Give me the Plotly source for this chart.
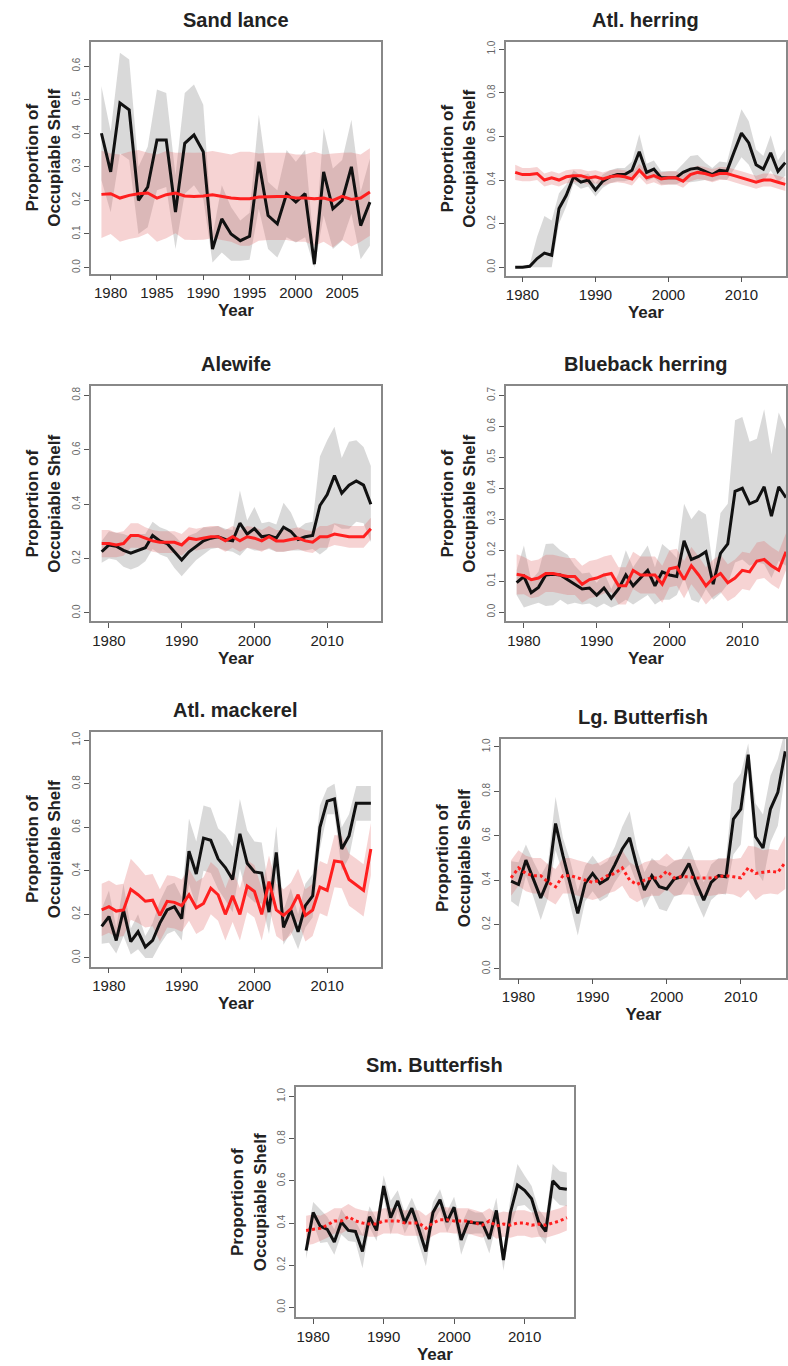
import plotly.graph_objects as go

W, H = 788, 1366
yrs_sl = list(range(1979, 2009))
yrs = list(range(1979, 2017))

# ---- data ----
sl_obs = [0.40,0.285,0.49,0.47,0.20,0.24,0.38,0.38,0.165,0.37,0.395,0.345,0.055,0.145,0.10,0.08,0.093,0.315,0.155,0.13,0.22,0.195,0.22,0.01,0.285,0.175,0.20,0.30,0.125,0.195]
sl_obs_hw = [0.14,0.12,0.15,0.15,0.10,0.12,0.15,0.14,0.11,0.15,0.15,0.14,0.04,0.10,0.08,0.06,0.07,0.14,0.10,0.10,0.13,0.12,0.13,0.04,0.13,0.12,0.12,0.14,0.10,0.13]
sl_mod = [0.218,0.22,0.207,0.215,0.22,0.222,0.207,0.217,0.222,0.213,0.212,0.213,0.217,0.212,0.207,0.205,0.205,0.21,0.212,0.212,0.212,0.207,0.207,0.205,0.207,0.2,0.212,0.203,0.207,0.225]
sl_mod_hw = [0.13,0.12,0.13,0.13,0.13,0.12,0.13,0.13,0.12,0.13,0.13,0.13,0.13,0.13,0.13,0.14,0.14,0.13,0.13,0.13,0.13,0.13,0.13,0.14,0.13,0.14,0.13,0.14,0.13,0.13]

ah_obs = [0.0,0.0,0.005,0.04,0.065,0.055,0.27,0.33,0.415,0.39,0.40,0.355,0.395,0.415,0.425,0.425,0.445,0.53,0.435,0.45,0.41,0.41,0.41,0.435,0.45,0.455,0.44,0.425,0.445,0.44,0.53,0.615,0.57,0.47,0.45,0.525,0.44,0.48]
ah_obs_hw = [0.005,0.005,0.01,0.10,0.17,0.16,0.07,0.05,0.03,0.03,0.03,0.03,0.03,0.03,0.03,0.03,0.04,0.08,0.04,0.04,0.03,0.03,0.03,0.04,0.06,0.06,0.04,0.03,0.04,0.04,0.08,0.11,0.10,0.07,0.06,0.08,0.05,0.06]
ah_mod = [0.435,0.425,0.425,0.43,0.40,0.41,0.40,0.415,0.42,0.42,0.41,0.415,0.405,0.415,0.42,0.415,0.405,0.445,0.41,0.42,0.405,0.41,0.41,0.395,0.425,0.435,0.43,0.42,0.43,0.43,0.42,0.41,0.40,0.39,0.40,0.40,0.39,0.38]
ah_mod_hw = [0.035,0.03,0.03,0.03,0.03,0.03,0.03,0.03,0.03,0.03,0.03,0.03,0.03,0.03,0.03,0.03,0.03,0.03,0.03,0.03,0.03,0.03,0.03,0.03,0.03,0.03,0.03,0.03,0.03,0.03,0.03,0.03,0.03,0.03,0.03,0.03,0.03,0.03]

al_obs = [0.225,0.25,0.245,0.23,0.22,0.23,0.24,0.285,0.265,0.255,0.225,0.195,0.225,0.245,0.265,0.275,0.28,0.27,0.265,0.33,0.29,0.31,0.28,0.285,0.275,0.315,0.30,0.27,0.28,0.285,0.395,0.435,0.505,0.44,0.47,0.485,0.47,0.40]
al_obs_hw = [0.04,0.05,0.05,0.06,0.06,0.06,0.05,0.05,0.05,0.05,0.06,0.06,0.06,0.05,0.05,0.04,0.04,0.04,0.04,0.12,0.05,0.08,0.05,0.05,0.05,0.09,0.07,0.04,0.05,0.05,0.18,0.2,0.18,0.13,0.16,0.15,0.14,0.14]
al_mod = [0.255,0.255,0.25,0.255,0.285,0.285,0.275,0.265,0.26,0.26,0.26,0.25,0.275,0.27,0.275,0.28,0.28,0.265,0.28,0.265,0.28,0.275,0.265,0.28,0.265,0.265,0.27,0.275,0.265,0.26,0.28,0.28,0.29,0.285,0.28,0.28,0.28,0.31]
al_mod_hw = [0.05,0.05,0.045,0.045,0.045,0.045,0.04,0.04,0.04,0.04,0.04,0.04,0.04,0.04,0.04,0.04,0.04,0.04,0.04,0.04,0.04,0.04,0.04,0.04,0.04,0.04,0.04,0.04,0.04,0.04,0.04,0.04,0.04,0.04,0.04,0.04,0.04,0.04]

bb_obs = [0.095,0.115,0.063,0.08,0.12,0.122,0.12,0.105,0.09,0.075,0.078,0.055,0.078,0.045,0.075,0.12,0.085,0.11,0.135,0.085,0.13,0.12,0.115,0.23,0.17,0.18,0.195,0.09,0.19,0.22,0.39,0.40,0.35,0.36,0.405,0.31,0.405,0.37]
bb_obs_hw = [0.04,0.1,0.04,0.05,0.1,0.1,0.08,0.08,0.06,0.05,0.05,0.04,0.05,0.03,0.05,0.08,0.06,0.07,0.08,0.06,0.09,0.08,0.06,0.12,0.13,0.15,0.12,0.05,0.13,0.13,0.23,0.23,0.2,0.2,0.25,0.2,0.24,0.22]
bb_mod = [0.122,0.118,0.105,0.11,0.125,0.125,0.12,0.115,0.115,0.09,0.105,0.11,0.12,0.125,0.085,0.085,0.135,0.12,0.12,0.12,0.09,0.14,0.145,0.105,0.15,0.12,0.085,0.11,0.125,0.095,0.11,0.135,0.13,0.165,0.17,0.15,0.135,0.195]
bb_mod_hw = [0.065,0.06,0.06,0.06,0.06,0.06,0.06,0.06,0.06,0.06,0.06,0.06,0.06,0.06,0.06,0.06,0.06,0.06,0.06,0.06,0.06,0.06,0.06,0.06,0.06,0.06,0.06,0.06,0.06,0.06,0.06,0.06,0.06,0.06,0.06,0.06,0.06,0.06]

am_obs = [0.145,0.19,0.08,0.22,0.075,0.12,0.05,0.08,0.16,0.22,0.235,0.18,0.49,0.385,0.55,0.54,0.455,0.415,0.36,0.57,0.435,0.395,0.39,0.21,0.485,0.14,0.22,0.12,0.24,0.285,0.60,0.72,0.73,0.50,0.56,0.71,0.71,0.71]
am_obs_hw = [0.08,0.12,0.06,0.12,0.06,0.08,0.05,0.08,0.1,0.11,0.11,0.1,0.15,0.15,0.15,0.15,0.14,0.15,0.15,0.16,0.15,0.14,0.14,0.1,0.12,0.08,0.1,0.08,0.1,0.1,0.1,0.06,0.07,0.1,0.1,0.08,0.08,0.08]
am_mod = [0.22,0.235,0.215,0.22,0.315,0.29,0.26,0.265,0.195,0.26,0.255,0.24,0.29,0.23,0.25,0.32,0.29,0.2,0.285,0.2,0.33,0.305,0.2,0.35,0.22,0.195,0.225,0.29,0.195,0.22,0.325,0.31,0.445,0.44,0.36,0.335,0.31,0.5]
am_mod_hw = [0.12,0.12,0.12,0.12,0.14,0.13,0.12,0.12,0.12,0.12,0.12,0.12,0.12,0.12,0.12,0.12,0.12,0.12,0.12,0.12,0.12,0.12,0.12,0.12,0.12,0.12,0.12,0.12,0.12,0.12,0.12,0.12,0.12,0.12,0.12,0.12,0.12,0.12]

lb_obs = [0.395,0.38,0.49,0.405,0.32,0.40,0.655,0.51,0.385,0.25,0.385,0.43,0.385,0.405,0.47,0.54,0.59,0.46,0.355,0.42,0.37,0.36,0.405,0.415,0.475,0.385,0.31,0.39,0.42,0.415,0.675,0.72,0.965,0.595,0.545,0.72,0.795,0.98]
lb_obs_hw = [0.09,0.1,0.07,0.08,0.1,0.08,0.12,0.08,0.1,0.1,0.08,0.08,0.08,0.08,0.08,0.1,0.12,0.08,0.08,0.08,0.1,0.1,0.08,0.08,0.08,0.08,0.08,0.08,0.08,0.08,0.16,0.16,0.05,0.15,0.15,0.15,0.15,0.1]
lb_mod = [0.41,0.455,0.43,0.42,0.42,0.39,0.37,0.42,0.42,0.41,0.40,0.39,0.40,0.42,0.43,0.455,0.40,0.38,0.40,0.41,0.41,0.44,0.41,0.415,0.415,0.41,0.41,0.41,0.415,0.42,0.415,0.41,0.455,0.43,0.435,0.44,0.435,0.48]
lb_mod_hw = [0.08,0.08,0.08,0.08,0.08,0.08,0.08,0.08,0.08,0.08,0.08,0.08,0.08,0.08,0.08,0.08,0.08,0.08,0.08,0.08,0.08,0.08,0.08,0.08,0.08,0.08,0.08,0.08,0.08,0.08,0.08,0.09,0.1,0.12,0.1,0.1,0.1,0.12]

sb_obs = [0.27,0.45,0.385,0.37,0.31,0.405,0.365,0.36,0.265,0.43,0.365,0.575,0.425,0.505,0.40,0.47,0.37,0.265,0.45,0.51,0.405,0.475,0.32,0.405,0.40,0.40,0.325,0.46,0.225,0.45,0.58,0.555,0.515,0.405,0.36,0.60,0.565,0.56]
sb_obs_hw = [0.04,0.05,0.08,0.06,0.06,0.06,0.05,0.05,0.08,0.05,0.05,0.05,0.08,0.05,0.05,0.05,0.07,0.07,0.05,0.05,0.05,0.05,0.07,0.06,0.05,0.05,0.07,0.06,0.05,0.07,0.1,0.07,0.06,0.06,0.06,0.08,0.08,0.08]
sb_mod = [0.365,0.37,0.375,0.39,0.41,0.41,0.43,0.41,0.40,0.395,0.395,0.41,0.41,0.41,0.40,0.40,0.40,0.375,0.40,0.415,0.415,0.41,0.41,0.41,0.40,0.39,0.41,0.385,0.395,0.39,0.40,0.40,0.39,0.395,0.39,0.40,0.41,0.425]
sb_mod_hw = [0.07,0.07,0.06,0.06,0.06,0.06,0.06,0.06,0.06,0.06,0.06,0.06,0.06,0.06,0.06,0.06,0.06,0.06,0.06,0.06,0.06,0.06,0.06,0.06,0.06,0.06,0.06,0.06,0.06,0.06,0.06,0.06,0.06,0.06,0.06,0.06,0.06,0.06]

panels = [
    ("Sand lance", yrs_sl, sl_obs, sl_obs_hw, sl_mod, sl_mod_hw, False, (91, 382, 40, 272), [1977.85, 2009.2], [-0.018, 0.672], [1980,1985,1990,1995,2000,2005], [0,0.1,0.2,0.3,0.4,0.5,0.6]),
    ("Atl. herring", yrs, ah_obs, ah_obs_hw, ah_mod, ah_mod_hw, False, (507, 788, 40, 274), [1977.7, 2016.1], [-0.038, 1.033], [1980,1990,2000,2010], [0,0.2,0.4,0.6,0.8,1.0]),
    ("Alewife", yrs, al_obs, al_obs_hw, al_mod, al_mod_hw, False, (91, 382, 385, 620), [1977.5, 2017.4], [-0.03, 0.833], [1980,1990,2000,2010], [0,0.2,0.4,0.6,0.8]),
    ("Blueback herring", yrs, bb_obs, bb_obs_hw, bb_mod, bb_mod_hw, False, (507, 788, 385, 620), [1977.5, 2016.0], [-0.029, 0.729], [1980,1990,2000,2010], [0,0.1,0.2,0.3,0.4,0.5,0.6,0.7]),
    ("Atl. mackerel", yrs, am_obs, am_obs_hw, am_mod, am_mod_hw, False, (91, 382, 731, 966), [1977.5, 2017.4], [-0.04, 1.038], [1980,1990,2000,2010], [0,0.2,0.4,0.6,0.8,1.0]),
    ("Lg. Butterfish", yrs, lb_obs, lb_obs_hw, lb_mod, lb_mod_hw, True, (502, 788, 738, 977), [1977.6, 2016.1], [-0.039, 1.036], [1980,1990,2000,2010], [0,0.2,0.4,0.6,0.8,1.0]),
    ("Sm. Butterfish", yrs, sb_obs, sb_obs_hw, sb_mod, sb_mod_hw, True, (297, 575, 1087, 1317), [1977.6, 2016.95], [-0.046, 1.043], [1980,1990,2000,2010], [0,0.2,0.4,0.6,0.8,1.0]),
]

def fx(px):
    return min(max(px / W, 0), 1)

def fy(py):
    return min(max(1 - py / H, 0), 1)

fig = go.Figure()
layout = dict(width=W, height=H, margin=dict(l=0, r=0, t=0, b=0),
              paper_bgcolor="white", plot_bgcolor="white", showlegend=False,
              font=dict(family="Liberation Sans, Arial, sans-serif", color="#222"))
annotations = []
for i, (title, yy, obs, ohw, mod, mhw, dotted, box, xr, yr, xt, yt) in enumerate(panels):
    n = i + 1
    xa = "x" if n == 1 else f"x{n}"
    ya = "y" if n == 1 else f"y{n}"
    x0, x1, y0, y1 = box
    layout[f"xaxis{'' if n == 1 else n}"] = dict(
        domain=[fx(x0), fx(x1)], anchor=ya, range=xr, tickvals=xt,
        showgrid=False, zeroline=False, showline=True, mirror=True, linecolor="#888", linewidth=1.5,
        ticks="outside", ticklen=5, tickcolor="#555", tickfont=dict(size=15, color="#222"),
        title=dict(text="<b>Year</b>", font=dict(size=17, color="#222"), standoff=2))
    layout[f"yaxis{'' if n == 1 else n}"] = dict(
        domain=[fy(y1), fy(y0)], anchor=xa, range=yr, tickvals=yt,
        tickformat=".1f", tickangle=-90,
        showgrid=False, zeroline=False, showline=True, mirror=True, linecolor="#888", linewidth=1.5,
        ticks="outside", ticklen=5, tickcolor="#555", tickfont=dict(size=10, color="#666"),
        title=dict(text="<b>Proportion of<br>Occupiable Shelf</b>", font=dict(size=17, color="#222"), standoff=6))
    gup = [v + h for v, h in zip(obs, ohw)]
    glo = [max(v - h, 0) for v, h in zip(obs, ohw)]
    rup = [v + h for v, h in zip(mod, mhw)]
    rlo = [max(v - h, 0) for v, h in zip(mod, mhw)]
    fig.add_trace(go.Scatter(x=yy + yy[::-1], y=gup + glo[::-1], fill="toself", mode="none",
                             fillcolor="rgba(185,185,185,0.55)", xaxis=xa, yaxis=ya, hoverinfo="skip"))
    fig.add_trace(go.Scatter(x=yy + yy[::-1], y=rup + rlo[::-1], fill="toself", mode="none",
                             fillcolor="rgba(225,110,110,0.3)", xaxis=xa, yaxis=ya, hoverinfo="skip"))
    fig.add_trace(go.Scatter(x=yy, y=obs, mode="lines", line=dict(color="#111", width=3),
                             xaxis=xa, yaxis=ya))
    fig.add_trace(go.Scatter(x=yy, y=mod, mode="lines",
                             line=dict(color="#ff1f1f", width=3, dash="dot" if dotted else "solid"),
                             xaxis=xa, yaxis=ya))
    annotations.append(dict(text=f"<b>{title}</b>", x=(fx(x0) + fx(x1)) / 2, y=fy(y0 - 22),
                            xref="paper", yref="paper", showarrow=False, font=dict(size=20, color="#222"),
                            xanchor="center", yanchor="middle"))
layout["annotations"] = annotations
fig.update_layout(**layout)
fig.write_html("out.html", config={"displayModeBar": False},
               post_script="document.body.style.margin='0';document.body.style.overflow='hidden';"
                           "document.documentElement.style.overflow='hidden';")
